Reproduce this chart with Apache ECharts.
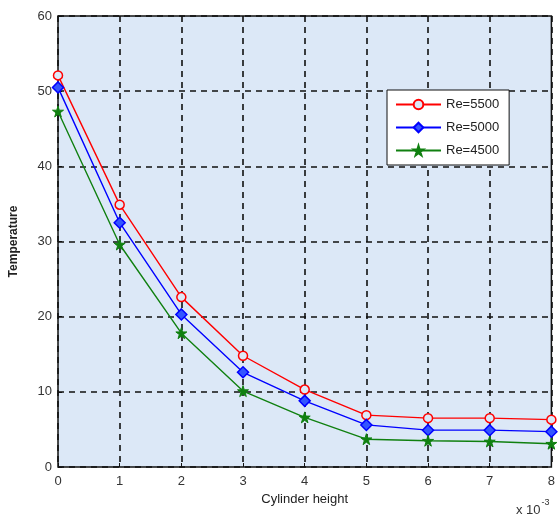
<!DOCTYPE html>
<html><head><meta charset="utf-8">
<script src="https://cdn.jsdelivr.net/npm/echarts@6/dist/echarts.min.js"></script>
<style>html,body{margin:0;padding:0;background:#fff}#c{width:558px;height:521px}</style>
</head><body><div id="c"></div>
<script>
const xValues = [0, 1, 2, 3, 4, 5, 6, 7, 8];
const re5500 = [52.1, 34.9, 22.6, 14.8, 10.3, 6.9, 6.5, 6.5, 6.3];
const re5000 = [50.5, 32.5, 20.3, 12.6, 8.8, 5.6, 4.9, 4.9, 4.7];
const re4500 = [47.3, 29.6, 17.8, 10.1, 6.6, 3.7, 3.5, 3.4, 3.1];
const seriesNames = ['Re=5500', 'Re=5000', 'Re=4500'];

const FONT = '"Liberation Sans Narrow", "Liberation Sans", Arial, sans-serif';
const starPath = 'path://M50,0 L61,35 L98,35 L68,57 L79,91 L50,70 L21,91 L32,57 L2,35 L39,35 Z';

function pairs(ys) { return xValues.map((x, i) => [x, ys[i]]); }

const chart = echarts.init(document.getElementById('c'));
chart.setOption({
  animation: false,
  backgroundColor: '#ffffff',
  grid: { left: 58, right: 3, top: 16, bottom: 54, show: true, backgroundColor: '#dce8f7', borderColor: '#111', borderWidth: 1.5 },
  legend: {
    orient: 'vertical', left: 387, top: 90,
    backgroundColor: '#ffffff', borderColor: '#111', borderWidth: 1,
    padding: [8, 10, 8, 8], itemGap: 10, itemWidth: 45, itemHeight: 12,
    textStyle: { fontFamily: FONT, fontSize: 13, color: '#222' },
    data: seriesNames
  },
  xAxis: {
    type: 'value', min: 0, max: 8, interval: 1,
    name: 'Cylinder height', nameLocation: 'middle', nameGap: 26,
    nameTextStyle: { fontFamily: FONT, fontSize: 13, color: '#222' },
    axisLine: { show: false },
    axisTick: { show: true, inside: true, length: 4, lineStyle: { color: '#111' } },
    axisLabel: { fontFamily: FONT, fontSize: 13, color: '#333', margin: 8 },
    splitLine: { show: true, lineStyle: { color: '#111', type: [6, 5], width: 1.6 } }
  },
  yAxis: {
    type: 'value', min: 0, max: 60, interval: 10,
    name: 'Temperature', nameLocation: 'middle', nameGap: 38, nameRotate: 90,
    nameTextStyle: { fontFamily: FONT, fontSize: 12, fontWeight: 'bold', color: '#222' },
    axisLine: { show: false },
    axisTick: { show: true, inside: true, length: 4, lineStyle: { color: '#111' } },
    axisLabel: { fontFamily: FONT, fontSize: 13, color: '#333', margin: 6 },
    splitLine: { show: true, lineStyle: { color: '#111', type: [6, 5], width: 1.6 } }
  },
  graphic: [{
    type: 'text', left: 516, top: 498,
    style: {
      text: '{b|x 10}{s|-3}',
      rich: {
        b: { fontFamily: FONT, fontSize: 13, fill: '#333', verticalAlign: 'bottom' },
        s: { fontFamily: FONT, fontSize: 9, fill: '#333', padding: [0, 0, 10, 1] }
      }
    }
  }],
  series: [
    { name: seriesNames[0], type: 'line', data: pairs(re5500), symbol: 'circle', symbolSize: 9,
      lineStyle: { color: '#ff0000', width: 1.4 }, itemStyle: { color: '#dce8f7', borderColor: '#ff0000', borderWidth: 1.5 }, color: '#ff0000' },
    { name: seriesNames[1], type: 'line', data: pairs(re5000), symbol: 'diamond', symbolSize: 11,
      lineStyle: { color: '#0000ff', width: 1.4 }, itemStyle: { color: '#3355ff', borderColor: '#0000ff', borderWidth: 1.5 }, color: '#0000ff' },
    { name: seriesNames[2], type: 'line', data: pairs(re4500), symbol: starPath, symbolSize: 11,
      lineStyle: { color: '#108010', width: 1.4 }, itemStyle: { color: '#108010', borderColor: '#108010', borderWidth: 1 }, color: '#108010' }
  ]
});
</script></body></html>
